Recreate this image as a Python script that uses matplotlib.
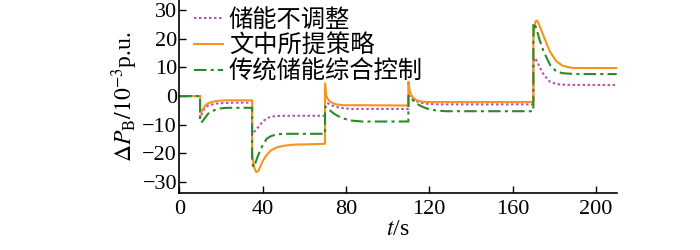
import matplotlib
matplotlib.use("Agg")
import matplotlib.pyplot as plt

plt.rcParams['font.family'] = ['Liberation Serif', 'Noto Sans CJK SC']
plt.rcParams['mathtext.fontset'] = 'stix'

# time samples (s); repeated values mark the step changes
t = [0, 10, 10, 10.5, 11, 12, 13, 14, 16, 18, 20, 23, 26,
     35, 35, 35.5, 36, 37, 38, 40, 42, 44, 47, 50, 55,
     70, 70, 70.5, 71, 72, 74, 76, 79, 83, 88,
     110, 110, 110.5, 111, 112, 114, 116, 119, 123, 128,
     170, 170, 170.5, 171, 171.5, 172, 173, 175, 178, 181, 184, 188, 192, 210]

# 储能不调整
p_none = [0, 0, -7.0, -7.5, -6.0, -4.6, -3.8, -3.3, -2.9, -2.6, -2.5, -2.4, -2.3,
          -2.3, -13.2, -13.1, -12.5, -11.6, -10.8, -9.0, -7.8, -7.2, -7.0, -6.9, -6.9,
          -6.9, -1.8, -2.0, -2.3, -2.8, -3.5, -3.9, -4.3, -4.5, -4.5,
          -4.5, 0.1, 0.0, -0.4, -1.0, -1.8, -2.3, -2.7, -2.9, -2.9,
          -2.9, 11.0, 13.2, 13.0, 12.5, 11.8, 10.2, 7.4, 5.0, 4.2, 4.0, 3.9, 3.9, 3.9]

# 文中所提策略
p_prop = [0, 0, -5.0, -6.0, -5.0, -3.8, -3.0, -2.5, -2.0, -1.7, -1.6, -1.5, -1.5,
          -1.5, -20.0, -23.0, -25.0, -26.6, -26.2, -22.8, -20.6, -19.0, -17.9, -17.4, -17.0,
          -16.7, 4.5, 0.4, -0.6, -1.7, -2.6, -3.0, -3.2, -3.2, -3.2,
          -3.3, 5.0, 2.5, 1.0, -0.4, -1.5, -1.9, -2.1, -2.1, -2.1,
          -2.1, 20.0, 24.0, 26.0, 26.4, 26.2, 24.5, 20.8, 15.5, 12.2, 10.6, 9.9, 9.8, 9.8]

# 传统储能综合控制
p_conv = [0, 0, -8.5, -9.3, -9.0, -8.0, -7.0, -6.1, -5.2, -4.6, -4.3, -4.1, -4.1,
          -4.1, -22.0, -24.8, -24.5, -22.5, -20.5, -17.3, -14.9, -14.0, -13.4, -13.2, -13.2,
          -13.2, -3.7, -3.8, -4.2, -4.8, -6.0, -6.9, -7.9, -8.6, -8.9,
          -8.9, 0.1, 0.0, -0.5, -1.3, -2.6, -3.5, -4.4, -5.0, -5.3,
          -5.3, 25.5, 25.5, 24.5, 23.4, 22.2, 19.6, 15.5, 10.9, 8.6, 8.0, 7.8, 7.7, 7.7]

labels = ['储能不调整', '文中所提策略', '传统储能综合控制']
xticks = [0, 40, 80, 120, 160, 200]
yticks = [-30, -20, -10, 0, 10, 20, 30]

fig = plt.figure(figsize=(7, 2.5), dpi=100)
ax = fig.add_axes([0.256, 0.228, 0.625, 0.772])

ax.plot(t, p_none, color='#b455b4', lw=1.5, ls=(0, (1.2, 1.2)), label=labels[0])
ax.plot(t, p_prop, color='#f7931e', lw=1.5, ls='-', label=labels[1])
ax.plot(t, p_conv, color='#2a8a2a', lw=1.5, ls=(0, (6, 2, 1.5, 2)), label=labels[2])

ax.set_xlim(0, 210)
ax.set_ylim(-33.9, 33.6)
ax.set_xticks(xticks)
ax.set_yticks(yticks)
ax.tick_params(direction='in', length=5, width=1, labelsize=16)
ax.tick_params(axis='x', pad=5)
ax.tick_params(axis='y', pad=1.5)
ax.set_yticklabels([str(v).replace('-', '\u2212') for v in yticks])
for s in ['top', 'right']:
    ax.spines[s].set_visible(False)
for s in ['left', 'bottom']:
    ax.spines[s].set_linewidth(1.2)

ax.set_xlabel(r'$t$/s', fontsize=17, labelpad=0)
ax.set_ylabel(r'$\Delta P_{\mathrm{B}}/10^{-3}$p.u.', fontsize=17, labelpad=2)

leg = ax.legend(loc='upper left', bbox_to_anchor=(0.033, 0.965), frameon=False,
                prop={'family': 'Noto Sans CJK SC', 'size': 17.5},
                handlelength=1.2, handletextpad=0.25, labelspacing=0.0,
                borderaxespad=0, borderpad=0)

fig.savefig('out.png', dpi=100)
